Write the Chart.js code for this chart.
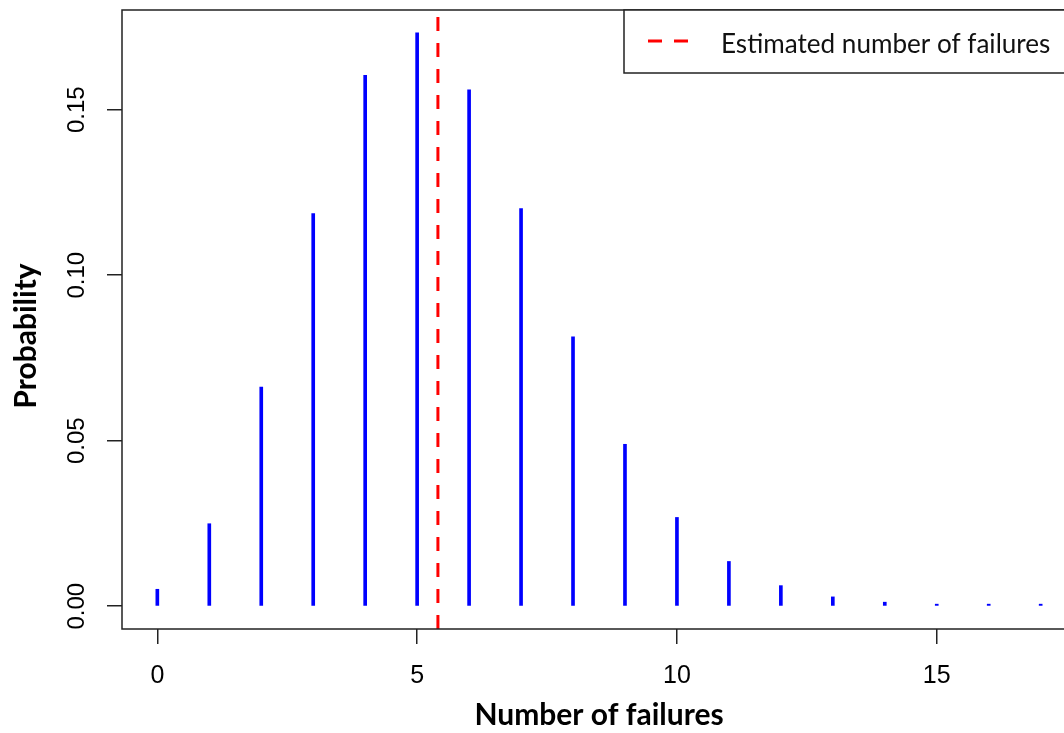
<!DOCTYPE html>
<html>
<head>
<meta charset="utf-8">
<script src="https://cdn.jsdelivr.net/npm/chart.js@4.4.1/dist/chart.umd.min.js"></script>
<style>
  html, body { margin: 0; padding: 0; background: #ffffff; overflow: hidden; }
  #wrap { width: 1100px; height: 733px; }
</style>
</head>
<body>
<div id="wrap"><canvas id="c" width="1100" height="733"></canvas></div>
<script>
// Probability of each number of failures
const failures = [0, 1, 2, 3, 4, 5, 6, 7, 8, 9, 10, 11, 12, 13, 14, 15, 16, 17];
const probability = [0.0051, 0.0249, 0.0662, 0.1186, 0.1604, 0.1732, 0.1560, 0.1201, 0.0814,
                     0.0489, 0.0268, 0.0135, 0.0062, 0.0028, 0.0012, 0.0005, 0.0003, 0.0001];
const estimatedFailures = 5.4;

// Axis ticks and ranges
const xTickValues = [0, 5, 10, 15];
const yTickValues = [0, 0.05, 0.10, 0.15];
const xRange = [-0.68, 17.68];
const yRange = [-0.0069, 0.1801];

const xTitle = 'Number of failures';
const yTitle = 'Probability';
const legendLabel = 'Estimated number of failures';

const TICK_FONT = '24px "Liberation Sans", Arial, sans-serif';
const TITLE_FONT = 'bold 30px Lato, "Liberation Sans", sans-serif';
const DASH = [14, 12];

// Box, rotated y labels, y title and legend
const framePlugin = {
  id: 'frame',
  afterDraw(chart) {
    const ctx = chart.ctx;
    const a = chart.chartArea;
    const yScale = chart.scales.y;
    ctx.save();

    // plot box
    ctx.strokeStyle = '#222';
    ctx.lineWidth = 1.5;
    ctx.strokeRect(a.left, a.top, a.right - a.left, a.bottom - a.top);

    // y tick labels, reading bottom to top
    ctx.fillStyle = '#000';
    ctx.font = TICK_FONT;
    ctx.textAlign = 'center';
    ctx.textBaseline = 'alphabetic';
    yScale.ticks.forEach(t => {
      const py = yScale.getPixelForValue(t.value);
      ctx.save();
      ctx.translate(84, py);
      ctx.rotate(-Math.PI / 2);
      ctx.fillText(t.value.toFixed(2), 0, 0);
      ctx.restore();
    });

    // y axis title
    ctx.font = TITLE_FONT;
    ctx.textBaseline = 'middle';
    ctx.save();
    ctx.translate(26, 336);
    ctx.rotate(-Math.PI / 2);
    ctx.fillText(yTitle, 0, 0);
    ctx.restore();

    // legend (top right)
    const lx = 624, ly = a.top, lw = a.right - lx, lh = 63;
    ctx.fillStyle = '#fff';
    ctx.fillRect(lx, ly, lw, lh);
    ctx.strokeStyle = '#222';
    ctx.lineWidth = 1.5;
    ctx.strokeRect(lx, ly, lw, lh);

    ctx.strokeStyle = '#ff0000';
    ctx.lineWidth = 3;
    ctx.setLineDash(DASH);
    ctx.beginPath();
    ctx.moveTo(648, ly + 31);
    ctx.lineTo(689, ly + 31);
    ctx.stroke();
    ctx.setLineDash([]);

    ctx.fillStyle = '#111';
    ctx.textAlign = 'left';
    ctx.textBaseline = 'alphabetic';
    ctx.font = '26px Lato, "Liberation Sans", sans-serif';
    const w = ctx.measureText(legendLabel).width;
    const size = 26 * 329 / w;
    ctx.font = size.toFixed(1) + 'px Lato, "Liberation Sans", sans-serif';
    ctx.fillText(legendLabel, 721, ly + 43);

    ctx.restore();
  }
};

new Chart(document.getElementById('c'), {
  type: 'bar',
  data: {
    datasets: [
      {
        type: 'bar',
        data: failures.map((f, i) => ({ x: f, y: probability[i] })),
        backgroundColor: '#0000ff',
        borderWidth: 0,
        barThickness: 3,
        minBarLength: 2
      },
      {
        type: 'line',
        data: [{ x: estimatedFailures, y: yRange[0] }, { x: estimatedFailures, y: yRange[1] }],
        borderColor: '#ff0000',
        borderWidth: 3,
        borderDash: DASH,
        pointRadius: 0,
        fill: false
      }
    ]
  },
  options: {
    responsive: false,
    animation: false,
    events: [],
    layout: { padding: { top: 10, right: 24, bottom: 0, left: 0 } },
    plugins: { legend: { display: false }, tooltip: { enabled: false } },
    scales: {
      x: {
        type: 'linear',
        offset: false,
        min: xRange[0],
        max: xRange[1],
        afterBuildTicks: s => { s.ticks = xTickValues.map(v => ({ value: v })); },
        afterFit: s => { s.height = 104; },
        ticks: {
          color: '#000',
          font: { family: '"Liberation Sans", Arial, sans-serif', size: 25 },
          padding: 17,
          maxRotation: 0,
          autoSkip: false,
          callback: v => String(v)
        },
        grid: { display: true, offset: false, drawOnChartArea: false, drawTicks: true, tickLength: 15, color: '#222', lineWidth: 1.5 },
        border: { display: false },
        title: {
          display: true,
          text: xTitle,
          color: '#000',
          font: { family: 'Lato, "Liberation Sans", sans-serif', size: 30, weight: 'bold' },
          padding: { top: 0, bottom: 0 }
        }
      },
      y: {
        type: 'linear',
        min: yRange[0],
        max: yRange[1],
        afterBuildTicks: s => { s.ticks = yTickValues.map(v => ({ value: v })); },
        afterFit: s => { s.width = 122; },
        ticks: { display: false },
        grid: { display: true, drawOnChartArea: false, drawTicks: true, tickLength: 15, color: '#222', lineWidth: 1.5 },
        border: { display: false }
      }
    }
  },
  plugins: [framePlugin]
});
</script>
</body>
</html>
